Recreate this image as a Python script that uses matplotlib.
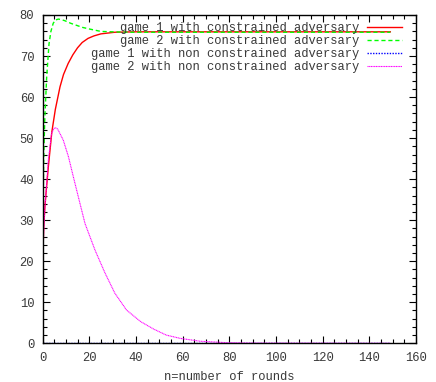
import matplotlib
matplotlib.use("Agg")
import matplotlib.pyplot as plt
from matplotlib.ticker import MultipleLocator

# game 1 with constrained adversary
red_x = [0, 0.5, 1, 1.5, 2.5, 4, 5.5, 7.5, 9, 11, 13, 15, 17, 19.5, 22, 25, 28, 31, 35, 40, 50, 149]
red_y = [18, 28, 33, 36.5, 43, 51.5, 57, 62.5, 65.5, 68.2, 70.3, 72, 73.3, 74.3, 74.9, 75.4, 75.6, 75.8, 75.85, 75.9, 75.9, 75.9]

# game 2 with constrained adversary
green_x = [0, 0.5, 1, 1.8, 2.8, 3.6, 4.6, 5.6, 6.8, 8, 9.6, 12, 14, 17, 20, 25, 30, 38, 45, 149]
green_y = [20, 45, 55, 65, 73, 76, 78, 78.8, 79, 78.9, 78.6, 78, 77.6, 77, 76.6, 76, 75.9, 75.8, 75.8, 75.8]

# game 1 with non constrained adversary
blue_x = [0, 149]
blue_y = [0, 0]

# game 2 with non constrained adversary
mag_x = [0, 0.5, 1, 1.8, 2.5, 3.9, 5, 5.6, 6.5, 8.9, 11.1, 13.2, 15.3, 18.2, 22.5, 26.8, 31, 36, 42,
         47.5, 53, 59, 67.5, 79, 90, 149]
mag_y = [18, 27, 33, 39, 44.7, 51.2, 52.4, 52.5, 52.2, 49.5, 45.5, 40.6, 35.8, 29.2, 22.7, 17.1, 12.2,
         8.1, 5.3, 3.5, 2, 1.2, 0.5, 0.15, 0.05, 0]

labels = [
    "    game 1 with constrained adversary",
    "    game 2 with constrained adversary",
    "game 1 with non constrained adversary",
    "game 2 with non constrained adversary",
]

plt.rcParams['font.family'] = ['Liberation Mono', 'DejaVu Sans Mono']
plt.rcParams['font.size'] = 8.7
txt = '#3a3a3a'

fig = plt.figure(figsize=(4.36, 3.82), dpi=100)
ax = fig.add_axes([42.5 / 436, 1 - 343.3 / 382, 373.5 / 436, 328.3 / 382])

ax.plot(red_x, red_y, color='#ff0000', lw=1.0, label=labels[0])
ax.plot(green_x, green_y, color='#00ff00', lw=1.0, dashes=(3, 2), label=labels[1])
ax.plot(blue_x, blue_y, color='#0000ff', lw=1.0, dashes=(1, 1), label=labels[2], zorder=1)
ax.plot(mag_x, mag_y, color='#ff00ff', lw=0.8, dashes=(1, 0.5), label=labels[3])

ax.set_xlim(0, 160)
ax.set_ylim(0, 80)
ax.xaxis.set_major_locator(MultipleLocator(20))
ax.xaxis.set_minor_locator(MultipleLocator(5))
ax.yaxis.set_major_locator(MultipleLocator(10))
ax.yaxis.set_minor_locator(MultipleLocator(2))
ax.tick_params(which='both', direction='in', top=True, right=True, colors='black',
               labelcolor=txt, width=0.8)
ax.tick_params(which='major', length=5, pad=6)
ax.tick_params(which='minor', length=3)
for s in ax.spines.values():
    s.set_linewidth(1.0)

ax.set_xlabel('n=number of rounds', color=txt, labelpad=5)

leg = ax.legend(loc='upper right', bbox_to_anchor=(0.9625, 0.978), frameon=False,
                markerfirst=False, handlelength=2.9, handletextpad=0.66,
                labelspacing=0.08, borderpad=0, borderaxespad=0)
for t in leg.get_texts():
    t.set_color(txt)

fig.savefig('out.png', dpi=100)
